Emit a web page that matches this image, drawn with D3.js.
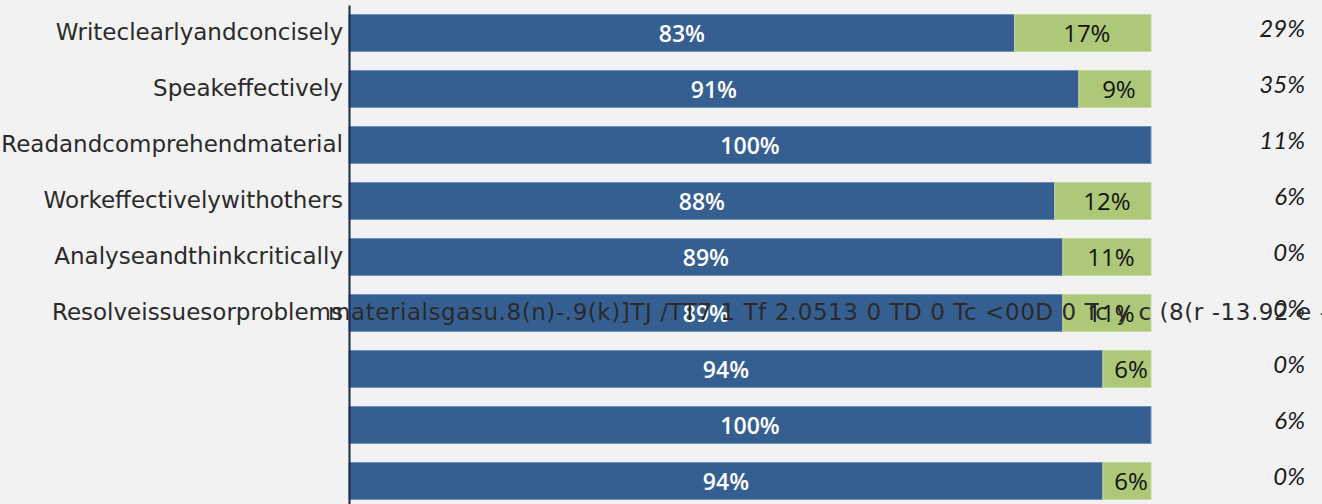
<!DOCTYPE html>
<html>
<head>
<meta charset="utf-8">
<script src="https://cdn.jsdelivr.net/npm/d3@7"></script>
<style>
  html, body { margin: 0; padding: 0; background: #f2f2f2; }
  svg { display: block; }
</style>
</head>
<body>
<svg id="chart" width="1322" height="504"></svg>
<script>
const categories = [
    "Writeclearlyandconcisely",
    "Speakeffectively",
    "Readandcomprehendmaterial",
    "Workeffectivelywithothers",
    "Analyseandthinkcritically",
    "Resolveissuesorproblems",
    "",
    "",
    ""
];
const blueValues = [83, 91, 100, 88, 89, 89, 94, 100, 94];
const greenValues = [17, 9, 0, 12, 11, 11, 6, 0, 6];
const rightValues = [29, 35, 11, 6, 0, 0, 0, 6, 0];
// leftover text that spills over the sixth row in the source
const strayRow = 5;
const strayText = "materialsgasu.8(n)-.9(k)]TJ /TT7 1 Tf 2.0513 0 TD 0 Tc <00D 0 Tc y c (8(r -13.92 e -";

const rows = categories.map((c, i) => ({
    idx: i,
    label: c,
    blue: blueValues[i],
    green: greenValues[i],
    right: rightValues[i]
}));

const svg = d3.select("#chart");

const scX = d3.scaleLinear().domain([0, 100]).range([349, 1151]);
const scY = d3.scaleBand()
    .domain(rows.map(d => d.idx))
    .range([5, 509])
    .paddingInner(0.34)
    .paddingOuter(0.17);

const labelFont = "'DejaVu Sans', sans-serif";
const valueFont = "'Open Sans', sans-serif";
const italicFont = "Lato, sans-serif";

// blue segments
svg.selectAll(".bar-blue")
    .data(rows)
    .enter()
    .append("rect")
    .attr("class", "bar-blue")
    .attr("x", scX(0))
    .attr("y", d => scY(d.idx))
    .attr("width", d => scX(d.blue) - scX(0))
    .attr("height", scY.bandwidth())
    .style("fill", "#365f91")
    .style("stroke", "#6f8fbf")
    .style("stroke-width", 1);

// green segments
svg.selectAll(".bar-green")
    .data(rows.filter(d => d.green > 0))
    .enter()
    .append("rect")
    .attr("class", "bar-green")
    .attr("x", d => scX(d.blue))
    .attr("y", d => scY(d.idx))
    .attr("width", d => scX(d.blue + d.green) - scX(d.blue))
    .attr("height", scY.bandwidth())
    .style("fill", "#adc878")
    .style("stroke", "#c5d8a2")
    .style("stroke-width", 1);

// category axis
const axisG = svg.append("g")
    .attr("transform", `translate(${scX(0)},0)`)
    .call(d3.axisLeft(scY).tickSize(0).tickPadding(6).tickFormat(i => categories[i]));

axisG.select(".domain")
    .attr("stroke", "#1b2b44")
    .attr("stroke-width", 2);

axisG.selectAll("text")
    .attr("dy", null)
    .attr("y", 7)
    .style("font-family", labelFont)
    .style("font-size", "23px")
    .style("fill", "#2a2a2a");

const mid = d => scY(d.idx) + scY.bandwidth() / 2;

// labels inside blue
svg.selectAll(".lbl-blue")
    .data(rows)
    .enter()
    .append("text")
    .attr("x", d => (scX(0) + scX(d.blue)) / 2)
    .attr("y", d => mid(d) + 8.5)
    .attr("text-anchor", "middle")
    .style("font-family", valueFont)
    .style("font-weight", 600)
    .style("font-size", "23px")
    .style("fill", "#ffffff")
    .text(d => d.blue + "%");

// labels inside green
svg.selectAll(".lbl-green")
    .data(rows.filter(d => d.green > 0))
    .enter()
    .append("text")
    .attr("x", d => (scX(d.blue) + scX(d.blue + d.green)) / 2 + 4)
    .attr("y", d => mid(d) + 9)
    .attr("text-anchor", "middle")
    .style("font-family", valueFont)
    .style("font-size", "24px")
    .style("fill", "#111111")
    .text(d => d.green + "%");

// italic column on the right
svg.selectAll(".lbl-right")
    .data(rows)
    .enter()
    .append("text")
    .attr("x", 1305)
    .attr("y", d => mid(d) + 4)
    .attr("text-anchor", "end")
    .style("font-family", italicFont)
    .style("font-style", "italic")
    .style("font-size", "24px")
    .style("fill", "#1a1a1a")
    .text(d => d.right + "%");

// spill-over text on row 6
svg.append("text")
    .attr("x", scX(0) - 21)
    .attr("y", mid(rows[strayRow]) + 7)
    .attr("textLength", 1000)
    .attr("lengthAdjust", "spacing")
    .style("font-family", labelFont)
    .style("font-size", "23px")
    .style("fill", "#2a2a2a")
    .text(strayText);
</script>
</body>
</html>
